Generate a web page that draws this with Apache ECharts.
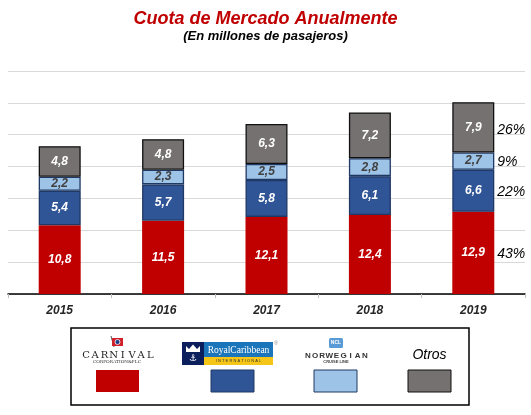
<!DOCTYPE html>
<html><head><meta charset="utf-8">
<script src="https://cdn.jsdelivr.net/npm/echarts@6/dist/echarts.min.js"></script>
<style>html,body{margin:0;padding:0;background:#fff}#c{width:531px;height:415px}</style>
</head><body><div id="c"></div>
<script>
const years = ['2015', '2016', '2017', '2018', '2019'];
const carnival = [10.8, 11.5, 12.1, 12.4, 12.9];
const royal = [5.4, 5.7, 5.8, 6.1, 6.6];
const norwegian = [2.2, 2.3, 2.5, 2.8, 2.7];
const otros = [4.8, 4.8, 6.3, 7.2, 7.9];
const shares2019 = ['43%', '22%', '9%', '26%'];
const seriesNames = ['Carnival', 'Royal Caribbean', 'Norwegian', 'Otros'];

const FF = '"Liberation Sans", Arial, sans-serif';
const colors = ['#C00000', '#2F5597', '#9DC3E6', '#767171'];
const borders = ['#C00000', '#1F3864', '#1F3864', '#111111'];
const labelColors = ['#ffffff', '#ffffff', '#404040', '#ffffff'];
const seriesData = [carnival, royal, norwegian, otros];

const fmt = v => v.toFixed(1).replace('.', ',');

const chart = echarts.init(document.getElementById('c'), null, {renderer: 'canvas'});

const series = seriesData.map((d, i) => ({
  name: seriesNames[i],
  type: 'bar',
  stack: 'total',
  barWidth: 42,
  data: d,
  itemStyle: {color: colors[i], borderColor: borders[i], borderWidth: i === 0 ? 0 : 1.3},
  label: {
    show: true, position: 'inside',
    formatter: p => fmt(p.value),
    color: labelColors[i], fontFamily: FF, fontSize: 12,
    fontWeight: 'bold', fontStyle: 'italic'
  }
}));

chart.setOption({
  animation: false,
  backgroundColor: '#fff',
  title: {
    text: 'Cuota de Mercado Anualmente',
    subtext: '(En millones de pasajeros)',
    left: 'center', top: 5, itemGap: 2,
    textStyle: {color: '#C00000', fontFamily: FF, fontSize: 18, fontWeight: 'bold', fontStyle: 'italic'},
    subtextStyle: {color: '#000', fontFamily: FF, fontSize: 13, fontWeight: 'bold', fontStyle: 'italic'}
  },
  grid: {left: 8, right: 6, top: 71, bottom: 121, containLabel: false},
  xAxis: {
    type: 'category', data: years,
    axisLine: {lineStyle: {color: '#000', width: 1.5}},
    axisTick: {show: true, length: 4, lineStyle: {color: '#BFBFBF'}},
    axisLabel: {color: '#262626', fontFamily: FF, fontSize: 12, fontWeight: 'bold', fontStyle: 'italic', margin: 11}
  },
  yAxis: {
    type: 'value', min: 0, max: 35, interval: 5,
    axisLabel: {show: false}, axisLine: {show: false}, axisTick: {show: false},
    splitLine: {lineStyle: {color: '#D9D9D9', width: 1}}
  },
  series: series
});

// percentage labels next to the last bar, positioned through the axis scales
const last = years.length - 1;
const graphics = [];
let base = 0;
seriesData.forEach((d, i) => {
  const v = d[last];
  const mid = base + v / 2;
  base += v;
  const pt = chart.convertToPixel({gridIndex: 0}, [last, mid]);
  graphics.push({
    type: 'text', x: pt[0] + 24, y: pt[1] + (i === 3 ? 3 : 1),
    style: {text: shares2019[i], fill: '#000', font: 'italic 14px ' + FF, textVerticalAlign: 'middle', textAlign: 'left'}
  });
});

// legend box
graphics.push({type: 'rect', shape: {x: 71, y: 328, width: 398, height: 77}, style: {fill: '#fff', stroke: '#000', lineWidth: 1.5}});
// swatches
const swX = [96, 211, 314, 408];
swX.forEach((x, i) => {
  graphics.push({type: 'rect', shape: {x: x, y: 370, width: 43, height: 22},
    style: {fill: colors[i], stroke: i === 0 ? null : borders[i], lineWidth: i === 0 ? 0 : 1}});
});
// Carnival logo (text based)
graphics.push({type: 'line', shape: {x1: 111, y1: 336, x2: 114, y2: 347}, style: {stroke: '#555', lineWidth: 1}});
graphics.push({type: 'rect', shape: {x: 112, y: 338, width: 11, height: 8}, style: {fill: '#D0202A'}});
graphics.push({type: 'circle', shape: {cx: 117.5, cy: 342, r: 2.5}, style: {fill: '#1F3C88', stroke: '#fff', lineWidth: 0.8}});
const carn = 'CARNIVAL';
for (let k = 0; k < carn.length; k++) {
  graphics.push({type: 'text', x: 86 + k * 9.2, y: 355.5,
    style: {text: carn[k], fill: '#222', font: '10px "DejaVu Serif", "Liberation Serif", serif', textAlign: 'center', textVerticalAlign: 'middle'}});
}
graphics.push({type: 'text', x: 117, y: 361.5,
  style: {text: 'CORPORATION&PLC', fill: '#333', font: '5px "Liberation Serif", serif', textAlign: 'center', textVerticalAlign: 'middle'}});
// Royal Caribbean logo
graphics.push({type: 'rect', shape: {x: 182, y: 342, width: 22, height: 23}, style: {fill: '#0B1F5C'}});
graphics.push({type: 'polygon', shape: {points: [[186, 352], [186, 346], [189, 349], [193, 344.5], [197, 349], [200, 346], [200, 352]]}, style: {fill: '#fff'}});
graphics.push({type: 'text', x: 193, y: 358.5, style: {text: '\u2693', fill: '#fff', font: '9px "DejaVu Sans", sans-serif', textAlign: 'center', textVerticalAlign: 'middle'}});
graphics.push({type: 'rect', shape: {x: 204, y: 342, width: 69, height: 15}, style: {fill: '#1B75BB'}});
graphics.push({type: 'text', x: 238.5, y: 350, style: {text: 'RoyalCaribbean', fill: '#fff', font: '9.5px "Liberation Serif", serif', textAlign: 'center', textVerticalAlign: 'middle'}});
graphics.push({type: 'rect', shape: {x: 204, y: 357, width: 69, height: 8}, style: {fill: '#F5C518'}});
graphics.push({type: 'text', x: 238.5, y: 361.2, style: {text: 'I N T E R N A T I O N A L', fill: '#333', font: '4px "Liberation Sans", sans-serif', textAlign: 'center', textVerticalAlign: 'middle'}});
graphics.push({type: 'text', x: 276, y: 343.5, style: {text: '\u00AE', fill: '#888', font: '5px "Liberation Sans", sans-serif', textAlign: 'center', textVerticalAlign: 'middle'}});
// Norwegian logo
graphics.push({type: 'rect', shape: {x: 329, y: 338, width: 14, height: 10, r: 1.5}, style: {fill: '#5B9BD5'}});
graphics.push({type: 'text', x: 336, y: 343, style: {text: 'NCL', fill: '#fff', font: 'bold 5px "Liberation Sans", sans-serif', textAlign: 'center', textVerticalAlign: 'middle'}});
const norw = 'NORWEGIAN';
for (let k = 0; k < norw.length; k++) {
  graphics.push({type: 'text', x: 308 + k * 7.1, y: 356,
    style: {text: norw[k], fill: '#333', font: 'bold 8px "Liberation Sans", sans-serif', textAlign: 'center', textVerticalAlign: 'middle'}});
}
graphics.push({type: 'text', x: 336, y: 362, style: {text: 'CRUISE LINE', fill: '#444', font: 'bold 4px "Liberation Sans", sans-serif', textAlign: 'center', textVerticalAlign: 'middle'}});
// Otros
graphics.push({type: 'text', x: 429.5, y: 355.5, style: {text: seriesNames[3], fill: '#000', font: 'italic 14px ' + FF, textAlign: 'center', textVerticalAlign: 'middle'}});

chart.setOption({graphic: graphics});
</script>
</body></html>
